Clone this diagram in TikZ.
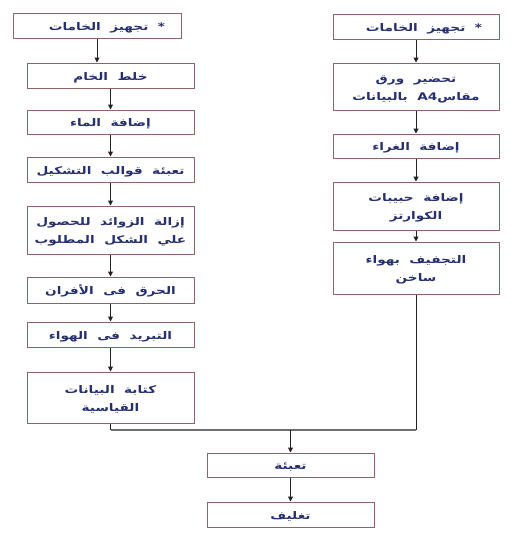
\documentclass[tikz,border=0pt]{standalone}
\usepackage{fontspec}
\newfontfamily\arabicfont[Script=Arabic,WordSpace=2,FakeStretch=1.3]{DejaVu Sans}
\TeXXeTstate=1
\usetikzlibrary{arrows.meta}
\definecolor{boxborder}{HTML}{8C6468}
\definecolor{txtcol}{HTML}{26306E}
\definecolor{linecol}{HTML}{222222}
\definecolor{mergecol}{HTML}{6E6E6E}
\tikzset{
  box/.style={draw=boxborder, line width=1pt, fill=white, minimum height=25pt,
    minimum width=167pt, inner sep=2pt, align=center, text=txtcol,
    text height=9pt, text depth=0pt,
    font=\arabicfont\bfseries\fontsize{10.5}{18}\selectfont},
  twoline/.style={text height=27pt, text depth=0pt},
  flow/.style={draw=linecol, line width=1pt, -{Triangle[length=5pt,width=5pt]}},
  merge/.style={draw=mergecol, line width=1.4pt},
  mergev/.style={draw=linecol, line width=1pt}
}
\newcommand{\rl}[1]{\beginR #1\endR}
\begin{document}
\begin{tikzpicture}[x=1pt,y=-1pt]
\useasboundingbox (0,0) rectangle (527,541);
% left column
\node[box, minimum width=168pt] (L1) at (97,25.5) {\rl{* تجهيز الخامات\hspace*{20pt}}};
\node[box] (L2) at (110.5,75.5) {\rl{خلط الخام}};
\node[box, minimum height=24pt] (L3) at (110.5,122) {\rl{إضافة الماء}};
\node[box] (L4) at (110.5,169.5) {\rl{تعبئة قوالب التشكيل}};
\node[box, twoline, minimum height=48pt] (L5) at (110.5,230) {\rl{إزالة الزوائد للحصول}\\\rl{علي الشكل المطلوب}};
\node[box, minimum height=26pt] (L6) at (110.5,290) {\rl{الحرق فى الأفران}};
\node[box] (L7) at (110.5,334.5) {\rl{التبريد فى الهواء}};
\node[box, twoline, minimum height=51pt] (L8) at (110.5,397.5) {\rl{كتابة البيانات}\\\rl{القياسية}};
% right column
\node[box, minimum width=166pt] (R1) at (416,26.5) {\rl{* تجهيز الخامات\hspace*{16pt}}};
\node[box, twoline, minimum width=166pt, minimum height=47pt] (R2) at (416,86.5) {\rl{تحضير ورق}\\\rl{مقاس\beginL A4\endL{} بالبيانات}};
\node[box, minimum width=166pt, minimum height=24pt] (R3) at (416,146) {\rl{إضافة الغراء}};
\node[box, twoline, minimum width=166pt, minimum height=48pt] (R4) at (416,206) {\rl{إضافة حبيبات}\\\rl{الكوارتز}};
\node[box, twoline, minimum width=166pt, minimum height=52pt] (R5) at (416,268) {\rl{التجفيف بهواء}\\\rl{ساخن}};
% bottom
\node[box, minimum height=24pt] (B1) at (290.5,465) {\rl{تعبئة}};
\node[box] (B2) at (290.5,514.5) {\rl{تغليف}};
\coordinate (M) at (290.5,430);
\coordinate (LM) at (110.5,430);
\coordinate (RM) at (416,430);
% connectors
\draw[flow] (L1.south) -- (L1.south |- L2.north);
\draw[flow] (L2) -- (L3);
\draw[flow] (L3) -- (L4);
\draw[flow] (L4) -- (L5);
\draw[flow] (L5) -- (L6);
\draw[flow] (L6) -- (L7);
\draw[flow] (L7) -- (L8);
\draw[flow] (R1) -- (R2);
\draw[flow] (R2) -- (R3);
\draw[flow] (R3) -- (R4);
\draw[flow] (R4) -- (R5);
\draw[mergev] (L8.south) -- (LM);
\draw[mergev] (R5.south) -- (RM);
\draw[merge] (LM) -- (RM);
\draw[flow] (M) -- (B1);
\draw[flow] (B1) -- (B2);
\end{tikzpicture}
\end{document}
